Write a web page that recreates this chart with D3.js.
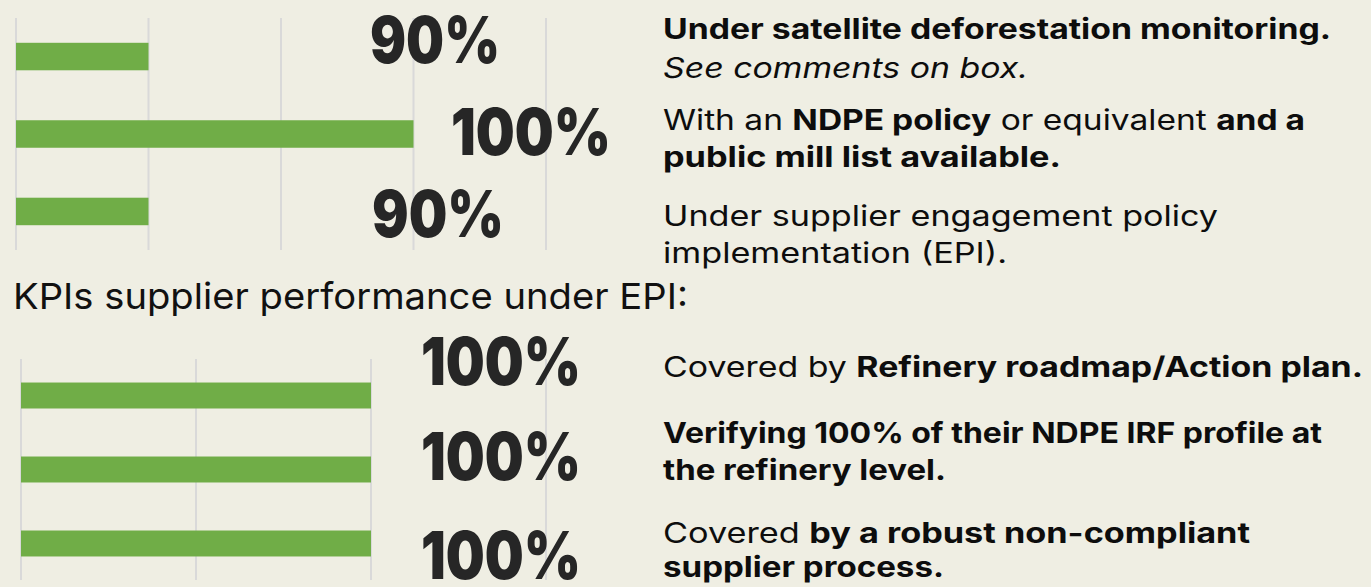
<!DOCTYPE html>
<html>
<head>
<meta charset="utf-8">
<script src="https://cdn.jsdelivr.net/npm/d3@7"></script>
<style>
  html, body { margin: 0; padding: 0; background: #EFEEE3; }
  svg { display: block; font-family: Inter, "Open Sans", sans-serif; }
</style>
</head>
<body>
<script>
// top block: share of volume
const topValues = [90, 100, 90];
const topLabels = ["90%", "100%", "90%"];
const topTicks = [85, 90, 95, 100, 105];

// bottom block: KPIs under EPI
const bottomValues = [100, 100, 100];
const bottomLabels = ["100%", "100%", "100%"];
const bottomTicks = [0, 50, 100, 150];

const subTitle = "KPIs supplier performance under EPI:";

// captions, each line is a list of [text, style]
const topCaptions = [
    [[["Under satellite deforestation monitoring.", "b"]],
     [["See comments on box.", "i"]]],
    [[["With an ", "r"], ["NDPE policy", "b"], [" or equivalent ", "r"], ["and a", "b"]],
     [["public mill list available.", "b"]]],
    [[["Under supplier engagement policy", "r"]],
     [["implementation (EPI).", "r"]]]
];
const bottomCaptions = [
    [[["Covered by ", "r"], ["Refinery roadmap/Action plan.", "b"]]],
    [[["Verifying 100% of their NDPE IRF profile at", "b"]],
     [["the refinery level.", "b"]]],
    [[["Covered ", "r"], ["by a robust non-compliant", "b"]],
     [["supplier process.", "b"]]]
];

// layout
const W = 1371, H = 587;
const green = "#70AD47", grid = "#D9D9D9", ink = "#262626";

const svg = d3.select("body").append("svg")
    .attr("width", W)
    .attr("height", H)

svg.append("rect").attr("width", W).attr("height", H).attr("fill", "#EFEEE3")

function drawBlock(cfg){
    var x = d3.scaleLinear().domain(cfg.domain).range(cfg.xRange)
    var y = d3.scaleBand()
        .domain(d3.range(cfg.values.length))
        .range(cfg.yRange)
        .paddingInner(cfg.pi)
        .paddingOuter(cfg.po)

    var g = svg.append("g")

    g.selectAll(".grid")
        .data(cfg.ticks)
        .enter()
        .append("line")
        .attr("class", "grid")
        .attr("x1", d => x(d))
        .attr("x2", d => x(d))
        .attr("y1", cfg.yRange[0])
        .attr("y2", cfg.yRange[1])
        .attr("stroke", grid)
        .attr("stroke-width", 2)

    g.selectAll(".bar")
        .data(cfg.values)
        .enter()
        .append("rect")
        .attr("class", "bar")
        .attr("x", x(cfg.domain[0]))
        .attr("y", (d, i) => y(i))
        .attr("width", d => x(d) - x(cfg.domain[0]))
        .attr("height", y.bandwidth())
        .attr("fill", green)

    g.selectAll(".val")
        .data(cfg.labels)
        .enter()
        .append("text")
        .attr("class", "val")
        .attr("x", (d, i) => cfg.labelEnd[i])
        .attr("y", (d, i) => cfg.labelBase[i])
        .attr("text-anchor", "end")
        .attr("font-size", cfg.labelSize)
        .attr("font-weight", 900)
        .attr("fill", ink)
        .attr("textLength", (d, i) => cfg.labelWidth[i])
        .attr("lengthAdjust", "spacingAndGlyphs")
        .text(d => d)
}

drawBlock({
    values: topValues, labels: topLabels, ticks: topTicks,
    domain: [85, 105], xRange: [16, 546], yRange: [18, 250], pi: 0.645, po: 0.32,
    labelEnd: [500, 611, 504], labelBase: [63, 155, 237], labelWidth: [130, 160, 132],
    labelSize: 64
})

drawBlock({
    values: bottomValues, labels: bottomLabels, ticks: bottomTicks,
    domain: [0, 150], xRange: [21, 546], yRange: [359, 580], pi: 0.649, po: 0.318,
    labelEnd: [581, 581, 581], labelBase: [385, 480, 579], labelWidth: [160, 160, 160],
    labelSize: 66
})

svg.append("text")
    .attr("x", 13)
    .attr("y", 309)
    .attr("font-size", 36)
    .attr("fill", "#111")
    .attr("textLength", 675)
    .attr("lengthAdjust", "spacingAndGlyphs")
    .text(subTitle)

function drawCaptions(groups, baselines, widths){
    var k = 0
    groups.forEach(function(lines){
        lines.forEach(function(segs){
            var t = svg.append("text")
                .attr("x", 663)
                .attr("y", baselines[k])
                .attr("font-size", 28)
                .attr("fill", "#0d0d0d")
                .attr("textLength", widths[k])
                .attr("lengthAdjust", "spacingAndGlyphs")
            t.selectAll("tspan")
                .data(segs)
                .enter()
                .append("tspan")
                .attr("font-weight", d => d[1] == "b" ? 700 : 400)
                .attr("font-style", d => d[1] == "i" ? "italic" : "normal")
                .text(d => d[0])
            k++
        })
    })
}

drawCaptions(topCaptions, [39, 78, 130, 167, 226, 263], [668, 365, 642, 398, 555, 344])
drawCaptions(bottomCaptions, [377, 443, 480, 543, 577], [700, 659, 283, 587, 281])
</script>
</body>
</html>
